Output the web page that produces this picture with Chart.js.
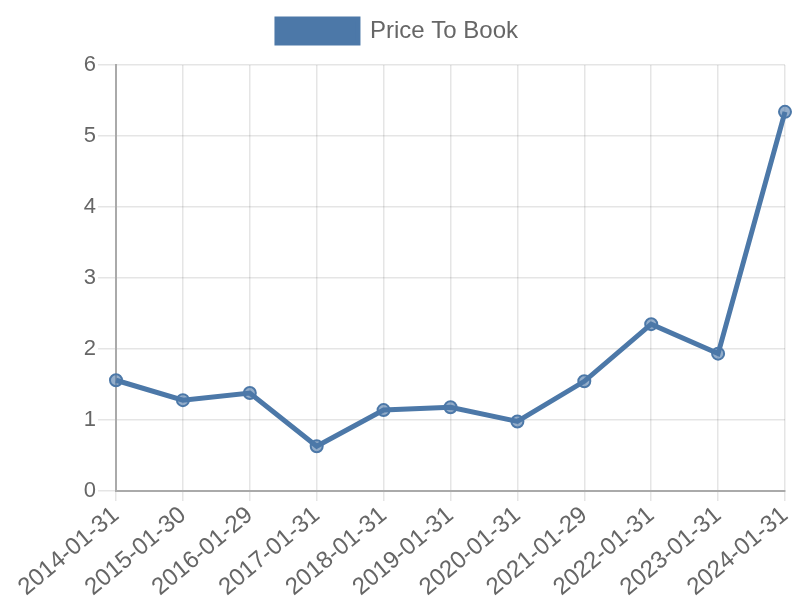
<!DOCTYPE html>
<html>
<head>
<meta charset="utf-8">
<script src="https://cdn.jsdelivr.net/npm/chart.js@4"></script>
<style>
  html, body { margin: 0; padding: 0; background: #fff; }
  #wrap { width: 800px; height: 600px; }
</style>
</head>
<body>
<div id="wrap"><canvas id="PTB_Chart"></canvas></div>
<script>
// data
var dates = ["2014-01-31", "2015-01-30", "2016-01-29", "2017-01-31", "2018-01-31", "2019-01-31",
             "2020-01-31", "2021-01-29", "2022-01-31", "2023-01-31", "2024-01-31"];
var priceToBook = [1.56, 1.28, 1.38, 0.63, 1.14, 1.18, 0.98, 1.545, 2.35, 1.935, 5.34];
var yTicks = [0, 1, 2, 3, 4, 5, 6];

Chart.defaults.font.family = "'Liberation Sans', Arial, sans-serif";
Chart.defaults.color = "#666";

// extra room under the legend
const legendMargin = {
    id: "legendMargin",
    beforeInit: function (chart) {
        const fit = chart.legend.fit;
        chart.legend.fit = function () {
            fit.bind(chart.legend)();
            this.height += 12;
        };
    }
};

function PTBChart(labels, values) {
    const blue = "rgb(76,120,168)";
    const data = {
        labels: labels,
        datasets: [{
            label: "Price To Book",
            data: values,
            borderColor: blue,
            backgroundColor: blue,
            borderWidth: 5,
            tension: 0,
            pointRadius: 6,
            pointBorderWidth: 2,
            pointBackgroundColor: "rgba(76,120,168,0.6)",
            pointBorderColor: blue
        }]
    };
    const options = {
        responsive: true,
        maintainAspectRatio: false,
        animation: false,
        layout: { padding: { right: 15, left: 10, top: 0, bottom: 0 } },
        plugins: {
            legend: {
                display: true,
                labels: {
                    boxWidth: 81,
                    boxHeight: 24,
                    padding: 19,
                    font: { size: 24 },
                    color: "#666"
                }
            },
            tooltip: { enabled: false }
        },
        scales: {
            x: {
                afterFit: function (axis) {
                    axis.paddingRight = 0;
                    axis.paddingLeft = 0;
                    axis.height -= 2;
                },
                grid: { color: "rgba(0,0,0,0.1)", lineWidth: 1.5, tickLength: 10 },
                border: { color: "#aaa", width: 2 },
                ticks: { font: { size: 24 }, maxRotation: 40, minRotation: 40, padding: 0 }
            },
            y: {
                min: 0,
                max: 6,
                afterBuildTicks: function (axis) {
                    axis.ticks = yTicks.map(function (v) { return { value: v }; });
                },
                afterFit: function (axis) {
                    axis.width = 106;
                },
                grid: { color: "rgba(0,0,0,0.1)", lineWidth: 1.5, tickLength: 18 },
                border: { color: "#aaa", width: 2 },
                ticks: { font: { size: 22 }, padding: 2 }
            }
        }
    };
    return new Chart(document.getElementById("PTB_Chart").getContext("2d"), {
        type: "line",
        data: data,
        options: options,
        plugins: [legendMargin]
    });
}

PTBChart(dates, priceToBook);
</script>
</body>
</html>
